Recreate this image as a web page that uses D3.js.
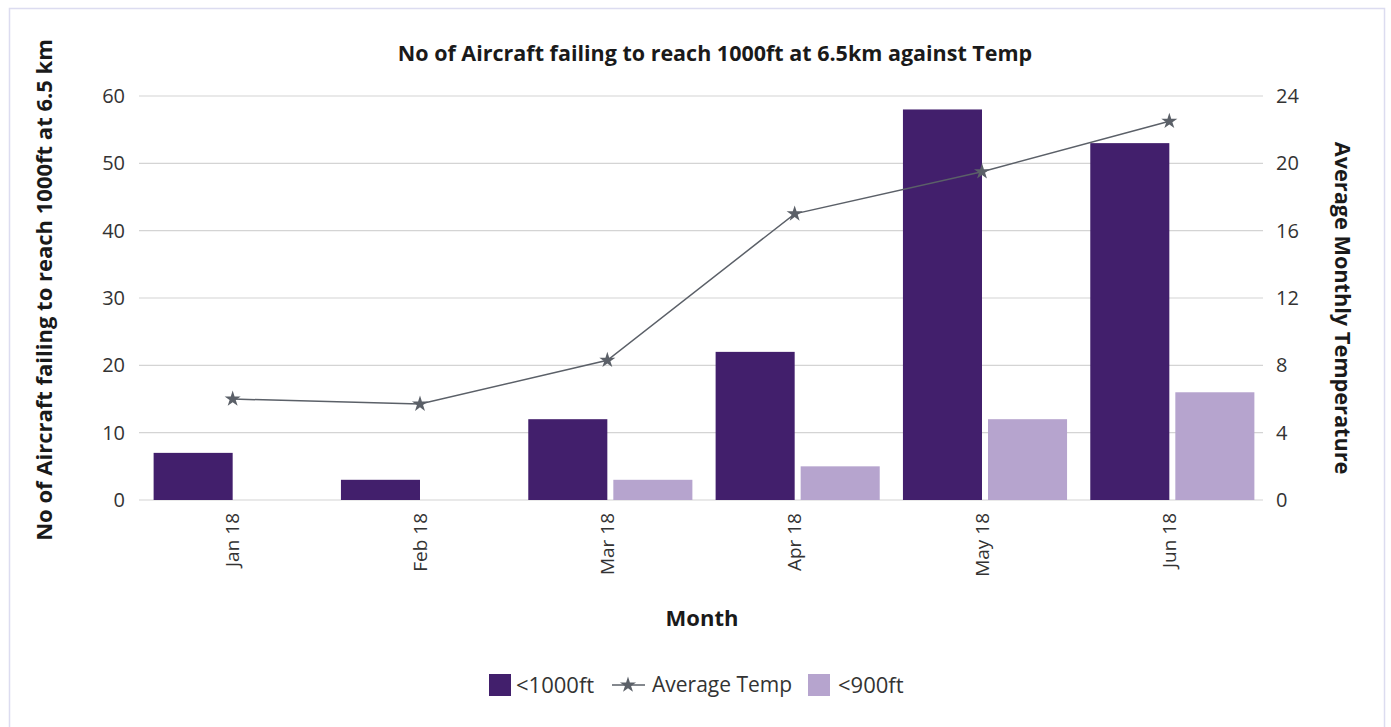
<!DOCTYPE html>
<html>
<head>
<meta charset="utf-8">
<script src="https://cdn.jsdelivr.net/npm/d3@7"></script>
<style>
  body { margin: 0; background: #fff; font-family: "Open Sans", "Noto Sans", sans-serif; }
  .tick text { fill: #333; }
</style>
</head>
<body>
<div id="my_dataviz"></div>
<script>
// data
var months = ["Jan 18", "Feb 18", "Mar 18", "Apr 18", "May 18", "Jun 18"];
var under1000 = [7, 3, 12, 22, 58, 53];
var under900 = [0, 0, 3, 5, 12, 16];
var avgTemp = [6.0, 5.7, 8.3, 17.0, 19.5, 22.5];
var leftTicks = [0, 10, 20, 30, 40, 50, 60];
var rightTicks = [0, 4, 8, 12, 16, 20, 24];

var W = 1391, H = 727;
var margin = {top: 96, right: 128, bottom: 227, left: 139},
    width = W - margin.left - margin.right,
    height = H - margin.top - margin.bottom;

var root = d3.select("#my_dataviz")
    .append("svg")
    .attr("width", W)
    .attr("height", H);

// panel border
root.append("rect")
    .attr("x", 9.5).attr("y", 8.5)
    .attr("width", 1375).attr("height", 740)
    .style("fill", "none")
    .style("stroke", "#dcdcf0")
    .style("stroke-width", 1.5);

var svg = root.append("g")
    .attr("transform", "translate(" + margin.left + "," + margin.top + ")");

// scales
var x = d3.scaleBand().domain(months).range([0, width]).padding(0);
var y = d3.scaleLinear().domain([0, 60]).range([height, 0]);
var y2 = d3.scaleLinear().domain([0, 24]).range([height, 0]);

// gridlines
svg.append("g")
    .selectAll("line")
    .data(leftTicks)
    .enter().append("line")
    .attr("x1", 0).attr("x2", width)
    .attr("y1", function(d) { return y(d); })
    .attr("y2", function(d) { return y(d); })
    .style("stroke", "#d4d4d4")
    .style("stroke-width", 1.2);

// left axis
svg.append("g")
    .style("font-size", "20px")
    .style("font-family", "'Open Sans', sans-serif")
    .call(d3.axisLeft(y).tickValues(leftTicks).tickSize(0).tickPadding(14))
    .select(".domain").remove();

// right axis
svg.append("g")
    .attr("transform", "translate(" + width + ",0)")
    .style("font-size", "20px")
    .style("font-family", "'Open Sans', sans-serif")
    .call(d3.axisRight(y2).tickValues(rightTicks).tickSize(0).tickPadding(13))
    .select(".domain").remove();

// x axis (rotated labels)
var xAxis = svg.append("g")
    .attr("transform", "translate(0," + height + ")")
    .style("font-size", "19px")
    .style("font-family", "'Open Sans', sans-serif")
    .call(d3.axisBottom(x).tickSize(0));
xAxis.select(".domain").remove();
xAxis.selectAll("text")
    .attr("transform", "rotate(-90)")
    .attr("x", -13)
    .attr("y", 0)
    .attr("dy", "0.35em")
    .style("text-anchor", "end");

// bars
var bw = x.bandwidth();
var barW = bw * 0.422, gap = bw * 0.032;

svg.append("g").selectAll("rect")
    .data(months)
    .enter().append("rect")
    .attr("x", function(d) { return x(d) + bw / 2 - barW; })
    .attr("y", function(d, i) { return y(under1000[i]); })
    .attr("width", barW)
    .attr("height", function(d, i) { return height - y(under1000[i]); })
    .style("fill", "#421f6c");

svg.append("g").selectAll("rect")
    .data(months)
    .enter().append("rect")
    .attr("x", function(d) { return x(d) + bw / 2 + gap; })
    .attr("y", function(d, i) { return y(under900[i]); })
    .attr("width", barW)
    .attr("height", function(d, i) { return height - y(under900[i]); })
    .style("fill", "#b6a4ce");

// temperature line
var line = d3.line()
    .x(function(d, i) { return x(months[i]) + bw / 2; })
    .y(function(d) { return y2(d); });

svg.append("path")
    .datum(avgTemp)
    .attr("d", line)
    .style("fill", "none")
    .style("stroke", "#5b6068")
    .style("stroke-width", 1.5);

var star = d3.symbol().type(d3.symbolStar).size(80);
svg.append("g").selectAll("path")
    .data(avgTemp)
    .enter().append("path")
    .attr("d", star)
    .attr("transform", function(d, i) {
        return "translate(" + (x(months[i]) + bw / 2) + "," + y2(d) + ")";
    })
    .style("fill", "#5b6068");

// titles
root.append("text")
    .attr("x", 715).attr("y", 61)
    .attr("text-anchor", "middle")
    .style("font-size", "21.5px")
    .style("font-weight", "bold")
    .style("fill", "#1a1a1a")
    .text("No of Aircraft failing to reach 1000ft at 6.5km against Temp");

root.append("text")
    .attr("x", 702).attr("y", 626)
    .attr("text-anchor", "middle")
    .style("font-size", "22px")
    .style("font-weight", "bold")
    .style("fill", "#1a1a1a")
    .text("Month");

root.append("text")
    .attr("transform", "translate(52,290) rotate(-90)")
    .attr("text-anchor", "middle")
    .style("font-size", "22px")
    .style("font-weight", "bold")
    .style("fill", "#1a1a1a")
    .text("No of Aircraft failing to reach 1000ft at 6.5 km");

root.append("text")
    .attr("transform", "translate(1335,308) rotate(90)")
    .attr("text-anchor", "middle")
    .style("font-size", "21.7px")
    .style("font-weight", "bold")
    .style("fill", "#1a1a1a")
    .text("Average Monthly Temperature");

// legend
var legend = root.append("g").attr("transform", "translate(0,685)");

legend.append("rect")
    .attr("x", 489).attr("y", -11).attr("width", 22).attr("height", 22)
    .style("fill", "#421f6c");
legend.append("text")
    .attr("x", 516).attr("y", 0).attr("dy", "0.35em")
    .style("font-size", "22px").style("fill", "#333")
    .text("<1000ft");

legend.append("line")
    .attr("x1", 612).attr("x2", 645).attr("y1", 0).attr("y2", 0)
    .style("stroke", "#5b6068").style("stroke-width", 1.5);
legend.append("path")
    .attr("d", star)
    .attr("transform", "translate(628,0)")
    .style("fill", "#5b6068");
legend.append("text")
    .attr("x", 652).attr("y", 0).attr("dy", "0.35em")
    .style("font-size", "21px").style("fill", "#333")
    .text("Average Temp");

legend.append("rect")
    .attr("x", 808).attr("y", -11).attr("width", 22).attr("height", 22)
    .style("fill", "#b6a4ce");
legend.append("text")
    .attr("x", 838).attr("y", 0).attr("dy", "0.35em")
    .style("font-size", "22px").style("fill", "#333")
    .text("<900ft");
</script>
</body>
</html>
